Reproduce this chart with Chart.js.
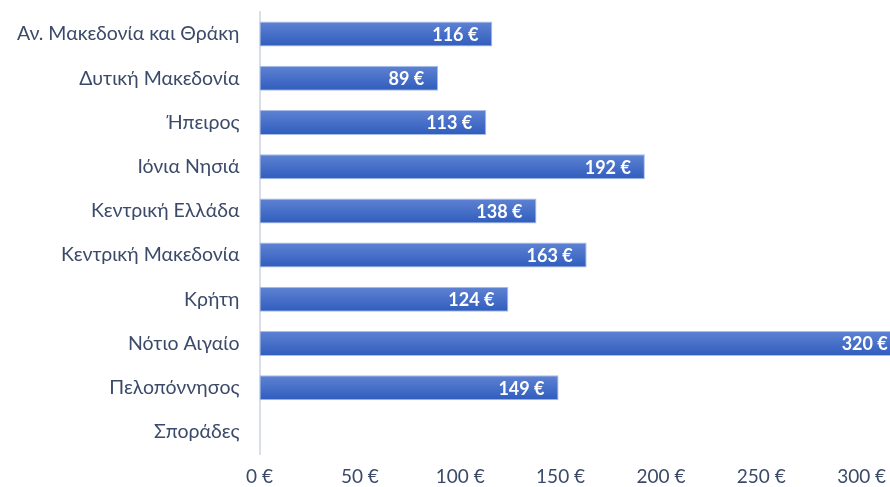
<!DOCTYPE html>
<html>
<head>
<meta charset="utf-8">
<script src="https://cdn.jsdelivr.net/npm/chart.js@4.4.1/dist/chart.umd.min.js"></script>
<style>
  html, body { margin: 0; padding: 0; background: #fff; overflow: hidden; }
  #wrap { width: 962px; height: 487px; }
</style>
</head>
<body>
<div id="wrap"><canvas id="barChart"></canvas></div>
<script>
// Περιφέρειες και τιμές
const regions = [
  "Αν. Μακεδονία και Θράκη",
  "Δυτική Μακεδονία",
  "Ήπειρος",
  "Ιόνια Νησιά",
  "Κεντρική Ελλάδα",
  "Κεντρική Μακεδονία",
  "Κρήτη",
  "Νότιο Αιγαίο",
  "Πελοπόννησος",
  "Σποράδες"
];
const prices = [116, 89, 113, 192, 138, 163, 124, 320, 149, null];
const xTicks = [0, 50, 100, 150, 200, 250, 300, 350];

const textColor = "#3b4a69";
const barHalf = 12.5;

// Διαβάθμιση για κάθε μπάρα (πιο ανοιχτό πάνω)
const barGradient = (ctx) => {
  const chart = ctx.chart;
  const yScale = chart.scales.y;
  if (!yScale || ctx.dataIndex === undefined) return "#4169c6";
  const yc = yScale.getPixelForValue(ctx.dataIndex);
  if (!isFinite(yc)) return "#4169c6";
  const g = chart.ctx.createLinearGradient(0, yc - barHalf, 0, yc + barHalf);
  g.addColorStop(0, "#5f83d3");
  g.addColorStop(1, "#2f5cbd");
  return g;
};

// Ετικέτες τιμών μέσα στις μπάρες
const valueLabels = {
  id: "valueLabels",
  afterDatasetsDraw(chart) {
    const ctx = chart.ctx;
    const meta = chart.getDatasetMeta(0);
    ctx.save();
    ctx.font = "bold 18px Lato";
    ctx.fillStyle = "#ffffff";
    ctx.textAlign = "right";
    ctx.textBaseline = "middle";
    meta.data.forEach((bar, i) => {
      if (prices[i] == null) return;
      ctx.fillText(prices[i] + " €", bar.x - 14, bar.y + 1);
    });
    ctx.restore();
  }
};

new Chart("barChart", {
  type: "bar",
  data: {
    labels: regions,
    datasets: [{
      data: prices,
      backgroundColor: barGradient,
      borderColor: "#a9bde8",
      borderWidth: 1,
      borderSkipped: false,
      categoryPercentage: 1,
      barPercentage: 0.565
    }]
  },
  options: {
    indexAxis: "y",
    responsive: true,
    maintainAspectRatio: false,
    animation: false,
    layout: { padding: { top: 12, bottom: 0, left: 0, right: 0 } },
    plugins: { legend: { display: false }, tooltip: { enabled: false } },
    scales: {
      x: {
        min: 0,
        max: 350,
        afterBuildTicks: (scale) => { scale.ticks = xTicks.map(v => ({ value: v })); },
        afterFit: (scale) => {
          scale.height = 33;
          scale.paddingRight = 0;
          scale.paddingLeft = 0;
        },
        grid: { display: false, drawTicks: false },
        border: { display: false },
        ticks: {
          color: textColor,
          font: { family: "Lato", size: 19 },
          padding: 11,
          maxRotation: 0,
          callback: (v) => v + " €"
        }
      },
      y: {
        afterFit: (scale) => {
          scale.width = 259.5;
          scale.paddingTop = 0;
          scale.paddingBottom = 0;
        },
        grid: { display: false, drawTicks: false },
        border: { display: true, color: "#d9dee8", width: 2 },
        ticks: {
          color: textColor,
          font: { family: "Lato", size: 19.5 },
          padding: 20
        }
      }
    }
  },
  plugins: [valueLabels]
});
</script>
</body>
</html>
